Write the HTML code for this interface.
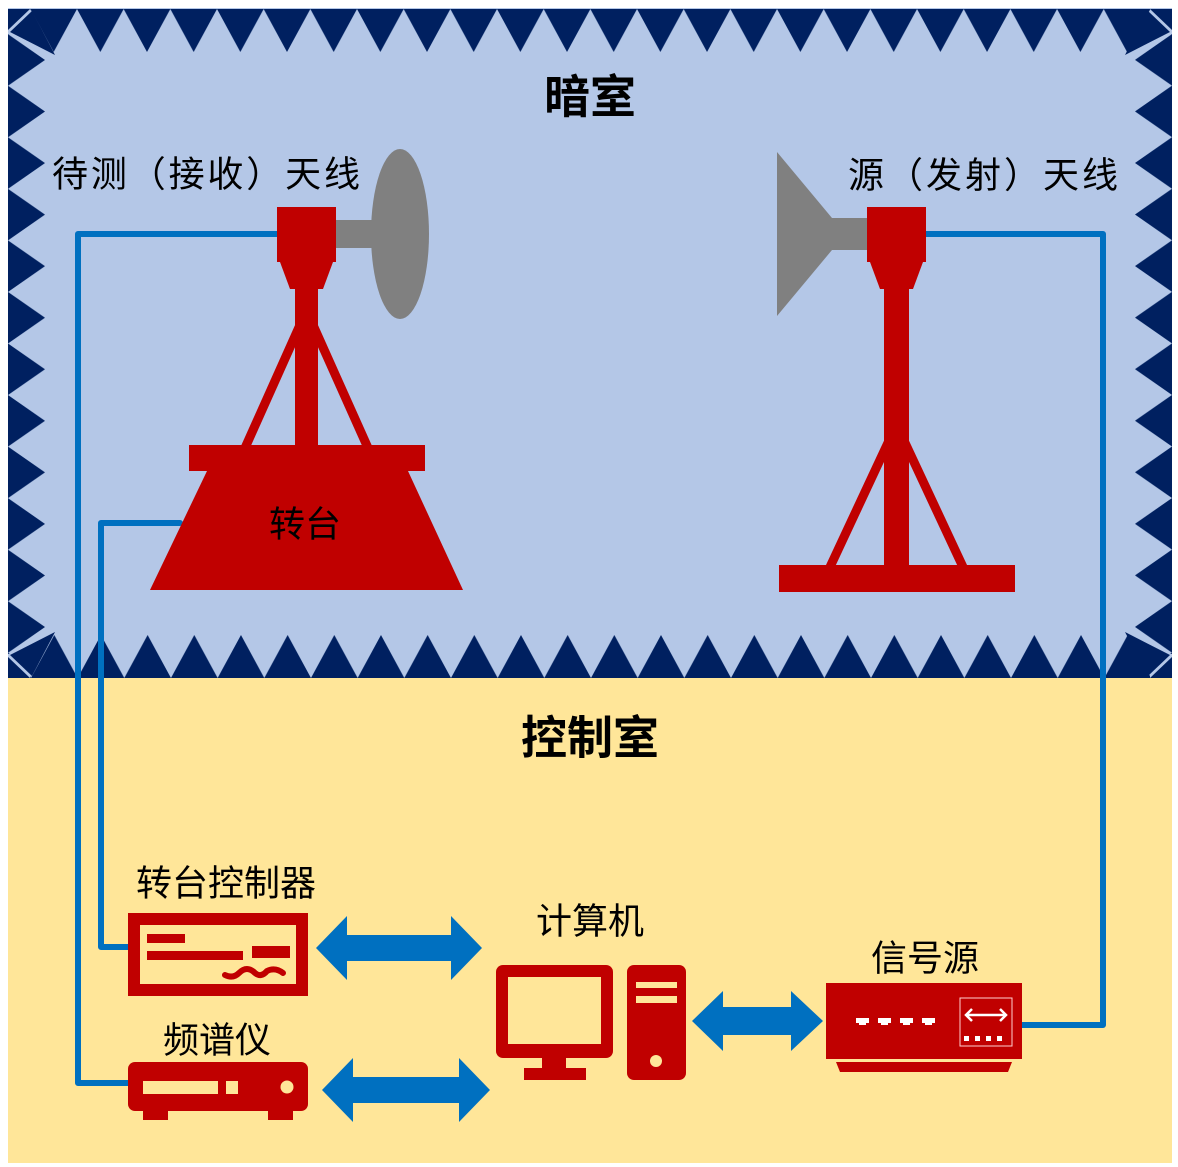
<!DOCTYPE html>
<html><head><meta charset="utf-8"><style>
html,body{margin:0;padding:0;background:#fff;}
svg{display:block;}
text{font-family:"Liberation Sans","Noto Sans CJK SC",sans-serif;fill:#000;}
</style></head><body>
<svg width="1178" height="1167" viewBox="0 0 1178 1167" xmlns="http://www.w3.org/2000/svg">
<defs>
<pattern id="pt" patternUnits="userSpaceOnUse" x="77" y="9" width="46.67" height="44"><polygon points="0,0 46.67,0 23.33,43" fill="#002060"/></pattern>
<pattern id="pb" patternUnits="userSpaceOnUse" x="124.3" y="635" width="46.67" height="44"><polygon points="0,43 46.67,43 23.33,0" fill="#002060"/></pattern>
<pattern id="pl" patternUnits="userSpaceOnUse" x="8" y="34.2" width="40" height="51.55"><polygon points="0,0 37,25.8 0,51.55" fill="#002060"/></pattern>
<pattern id="pr" patternUnits="userSpaceOnUse" x="1135" y="137.2" width="37" height="51.55"><polygon points="37,0 0,25.8 37,51.55" fill="#002060"/></pattern>
</defs>
<!-- rooms -->
<rect x="8" y="8" width="1164" height="670" fill="#b4c7e7"/>
<rect x="8" y="678" width="1164" height="485" fill="#ffe699"/>
<!-- absorbers -->
<rect x="30" y="9" width="1120" height="44" fill="url(#pt)"/>
<rect x="30" y="635" width="1120" height="43" fill="url(#pb)"/>
<rect x="8" y="34" width="40" height="620" fill="url(#pl)"/>
<rect x="1135" y="34" width="37" height="620" fill="url(#pr)"/>
<polygon points="8,9 30,9 8,30" fill="#002060"/>
<polygon points="10,32 32,11 55,55" fill="#002060"/>
<polygon points="1172,9 1150,9 1172,30" fill="#002060"/>
<polygon points="1170,32 1148,11 1125,55" fill="#002060"/>
<polygon points="8,657 30,678 8,678" fill="#002060"/>
<polygon points="10,655 32,676 55,632" fill="#002060"/>
<polygon points="1172,657 1150,678 1172,678" fill="#002060"/>
<polygon points="1170,655 1148,676 1125,632" fill="#002060"/>

<!-- titles -->
<text x="590" y="97" font-size="46" font-weight="bold" text-anchor="middle" dominant-baseline="central">暗室</text>
<text x="590" y="738" font-size="46" font-weight="bold" text-anchor="middle" dominant-baseline="central">控制室</text>
<text x="52" y="174" font-size="36" dominant-baseline="central" textLength="308">待测（接收）天线</text>
<text x="848" y="175" font-size="36" dominant-baseline="central" textLength="270">源（发射）天线</text>

<!-- blue cables -->
<g stroke="#0070c0" stroke-width="6" fill="none" stroke-linecap="round" stroke-linejoin="round">
<polyline points="280,234 78,234 78,1083 132,1083"/>
<polyline points="180,523 101,523 101,947 132,947"/>
<polyline points="926,234 1103,234 1103,1025 1022,1025"/>
</g>

<!-- left antenna -->
<ellipse cx="400" cy="234" rx="29" ry="85" fill="#808080"/>
<rect x="334" y="220" width="42" height="28" fill="#808080"/>
<rect x="277" y="207" width="59" height="55" fill="#c00000"/>
<polygon points="280,262 333,262 323,289 290,289" fill="#c00000"/>
<rect x="295" y="288" width="23" height="160" fill="#c00000"/>
<line x1="300" y1="325" x2="245" y2="448" stroke="#c00000" stroke-width="9"/>
<line x1="313" y1="325" x2="368" y2="448" stroke="#c00000" stroke-width="9"/>
<rect x="189" y="445" width="236" height="26" fill="#c00000"/>
<polygon points="207,471 408,471 463,590 150,590" fill="#c00000"/>
<text x="305" y="524" font-size="36" text-anchor="middle" dominant-baseline="central">转台</text>

<!-- right antenna -->
<polygon points="777,152 832,218 870,218 870,250 832,250 777,316" fill="#808080"/>
<rect x="867" y="207" width="59" height="55" fill="#c00000"/>
<polygon points="870,262 923,262 913,289 880,289" fill="#c00000"/>
<rect x="884" y="288" width="25" height="280" fill="#c00000"/>
<line x1="893" y1="432" x2="830" y2="567" stroke="#c00000" stroke-width="9"/>
<line x1="900" y1="432" x2="963" y2="567" stroke="#c00000" stroke-width="9"/>
<rect x="779" y="565" width="236" height="27" fill="#c00000"/>

<!-- controller -->
<text x="226" y="883" font-size="36" text-anchor="middle" dominant-baseline="central">转台控制器</text>
<rect x="134" y="919" width="168" height="71" fill="none" stroke="#c00000" stroke-width="12"/>
<rect x="147" y="934" width="38" height="9" fill="#c00000"/>
<rect x="147" y="951" width="96" height="9" fill="#c00000"/>
<rect x="252" y="946" width="38" height="12" fill="#c00000"/>
<path d="M225,975 q8,4 14,-2 q8,-8 16,0 q6,5 12,-2 q8,-4 16,2" stroke="#c00000" stroke-width="6" fill="none" stroke-linecap="round"/>

<!-- spectrum analyzer -->
<text x="217" y="1040" font-size="36" text-anchor="middle" dominant-baseline="central">频谱仪</text>
<rect x="128" y="1062" width="180" height="49" rx="7" fill="#c00000"/>
<rect x="143" y="1108" width="25" height="12" fill="#c00000"/>
<rect x="268" y="1108" width="25" height="12" fill="#c00000"/>
<rect x="143" y="1081" width="75" height="13" fill="#ffe699"/>
<rect x="226" y="1081" width="12" height="13" fill="#ffe699"/>
<circle cx="287" cy="1087" r="6.5" fill="#ffe699"/>

<!-- arrows -->
<g fill="#0070c0">
<polygon points="316,948 347,916 347,935 451,935 451,916 482,948 451,980 451,961 347,961 347,980"/>
<polygon points="322,1090 353,1058 353,1077 459,1077 459,1058 490,1090 459,1122 459,1103 353,1103 353,1122"/>
<polygon points="692,1021 723,991 723,1007 791,1007 791,991 823,1021 791,1051 791,1035 723,1035 723,1051"/>
</g>

<!-- computer -->
<text x="590" y="921" font-size="36" text-anchor="middle" dominant-baseline="central">计算机</text>
<rect x="496" y="965" width="117" height="93" rx="7" fill="#c00000"/>
<rect x="508" y="977" width="93" height="67" fill="#ffe699"/>
<rect x="542" y="1056" width="24" height="14" fill="#c00000"/>
<rect x="524" y="1068" width="62" height="12" fill="#c00000"/>
<rect x="627" y="965" width="59" height="115" rx="7" fill="#c00000"/>
<rect x="636" y="982" width="41" height="6" fill="#ffe699"/>
<rect x="636" y="996" width="41" height="7" fill="#ffe699"/>
<circle cx="656" cy="1061" r="6" fill="#ffe699"/>

<!-- signal source -->
<text x="925" y="958" font-size="36" text-anchor="middle" dominant-baseline="central">信号源</text>
<rect x="826" y="983" width="196" height="76" fill="#c00000"/>
<polygon points="836,1062 1012,1062 1008,1072 840,1072" fill="#c00000"/>
<g fill="#fff">
<rect x="856" y="1018" width="13" height="5"/><rect x="859" y="1022" width="7" height="3"/>
<rect x="878" y="1018" width="13" height="5"/><rect x="881" y="1022" width="7" height="3"/>
<rect x="900" y="1018" width="13" height="5"/><rect x="903" y="1022" width="7" height="3"/>
<rect x="922" y="1018" width="13" height="5"/><rect x="925" y="1022" width="7" height="3"/>
<rect x="964" y="1036" width="5" height="5"/><rect x="975" y="1036" width="5" height="5"/><rect x="986" y="1036" width="5" height="5"/><rect x="997" y="1036" width="5" height="5"/>
</g>
<rect x="960" y="998" width="52" height="48" fill="none" stroke="#ffd0d0" stroke-width="1"/>
<g stroke="#fff" stroke-width="2.5" fill="none">
<line x1="966" y1="1015" x2="1006" y2="1015"/>
<polyline points="972,1009 966,1015 972,1021"/>
<polyline points="1000,1009 1006,1015 1000,1021"/>
</g>
</svg>
</body></html>
